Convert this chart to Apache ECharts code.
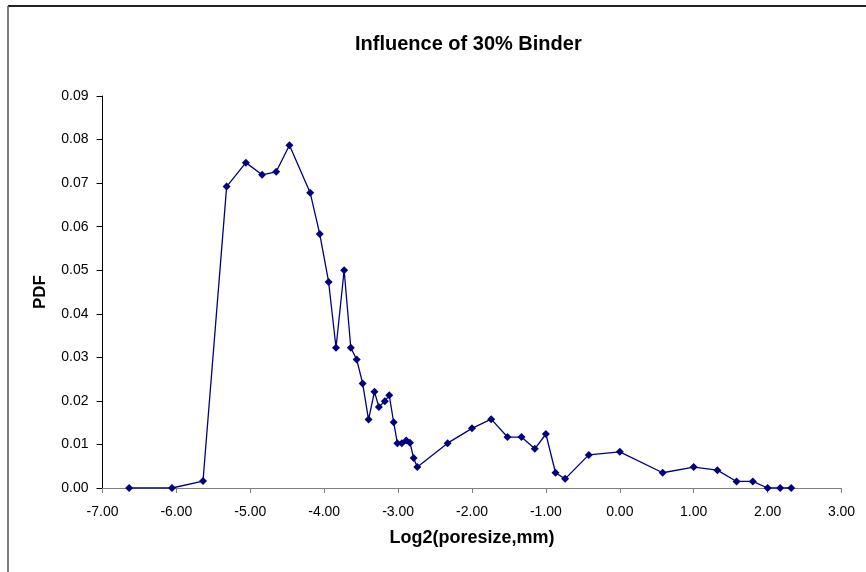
<!DOCTYPE html>
<html>
<head>
<meta charset="utf-8">
<script src="https://cdn.jsdelivr.net/npm/echarts@6/dist/echarts.min.js"></script>
<style>
html,body{margin:0;padding:0;background:#fff;}
#chart{width:866px;height:572px;}
</style>
</head>
<body>
<div id="chart"></div>
<script>
// Log2(poresize, mm)
var logSize = [-6.64, -6.06, -5.64, -5.32, -5.06, -4.84, -4.65, -4.47, -4.19, -4.06,
  -3.94, -3.84, -3.73, -3.64, -3.56, -3.48, -3.40, -3.32, -3.26, -3.18,
  -3.12, -3.06, -3.01, -2.95, -2.89, -2.84, -2.79, -2.74, -2.33, -2.00,
  -1.74, -1.52, -1.33, -1.15, -1.00, -0.87, -0.74, -0.42, 0.00, 0.58,
  1.00, 1.32, 1.58, 1.80, 2.00, 2.17, 2.32];
// PDF values
var pdf = [0.0000, 0.0000, 0.0016, 0.0692, 0.0747, 0.0719, 0.0726, 0.0787, 0.0678, 0.0583,
  0.0473, 0.0322, 0.0500, 0.0322, 0.0295, 0.0240, 0.0157, 0.0221, 0.0186, 0.0199,
  0.0213, 0.0151, 0.0103, 0.0103, 0.0109, 0.0104, 0.0069, 0.0048, 0.0103, 0.0137,
  0.0158, 0.0117, 0.0117, 0.0090, 0.0124, 0.0035, 0.0021, 0.0076, 0.0083, 0.0035,
  0.0048, 0.0041, 0.0015, 0.0015, 0.0000, 0.0000, 0.0000];

var chartTitle = 'Influence of 30% Binder';
var xTitle = 'Log2(poresize,mm)';
var yTitle = 'PDF';

var points = logSize.map(function (x, i) { return [x, pdf[i]]; });
var font = '"Liberation Sans", Arial, sans-serif';

var chart = echarts.init(document.getElementById('chart'), null, {renderer: 'canvas'});
chart.setOption({
  animation: false,
  backgroundColor: '#ffffff',
  title: {
    text: chartTitle,
    left: 350,
    top: 29,
    textStyle: {fontFamily: font, fontSize: 20, fontWeight: 'bold', color: '#000'}
  },
  graphic: [
    {type: 'line', shape: {x1: 8, y1: 6, x2: 866, y2: 6}, style: {stroke: '#222', lineWidth: 2}},
    {type: 'line', shape: {x1: 8, y1: 6, x2: 8, y2: 572}, style: {stroke: '#555', lineWidth: 1.5}}
  ],
  grid: {left: 102.5, right: 24.5, top: 96, bottom: 84, containLabel: false},
  xAxis: {
    type: 'value',
    min: -7, max: 3, interval: 1,
    name: xTitle,
    nameLocation: 'middle',
    nameGap: 41,
    nameTextStyle: {fontFamily: font, fontSize: 18, fontWeight: 'bold', color: '#000'},
    axisLine: {show: true, onZero: false, lineStyle: {color: '#808080', width: 1}},
    axisTick: {show: true, length: 5, inside: false, lineStyle: {color: '#808080'}},
    axisLabel: {fontFamily: font, fontSize: 14, color: '#000', margin: 17,
      formatter: function (v) { return v.toFixed(2); }},
    splitLine: {show: false}
  },
  yAxis: {
    type: 'value',
    min: 0, max: 0.09, interval: 0.01,
    name: yTitle,
    nameLocation: 'middle',
    nameRotate: 90,
    nameGap: 54,
    nameTextStyle: {fontFamily: font, fontSize: 17, fontWeight: 'bold', color: '#000'},
    axisLine: {show: true, onZero: false, lineStyle: {color: '#000', width: 1}},
    axisTick: {show: true, length: 6, inside: false, lineStyle: {color: '#000'}},
    axisLabel: {fontFamily: font, fontSize: 14, color: '#000', margin: 14,
      formatter: function (v) { return v.toFixed(2); }},
    splitLine: {show: false}
  },
  series: [{
    type: 'line',
    data: points,
    symbol: 'diamond',
    symbolSize: 8,
    showAllSymbol: true,
    lineStyle: {color: '#000080', width: 1.3},
    itemStyle: {color: '#000080', borderWidth: 0}
  }]
});
</script>
</body>
</html>
